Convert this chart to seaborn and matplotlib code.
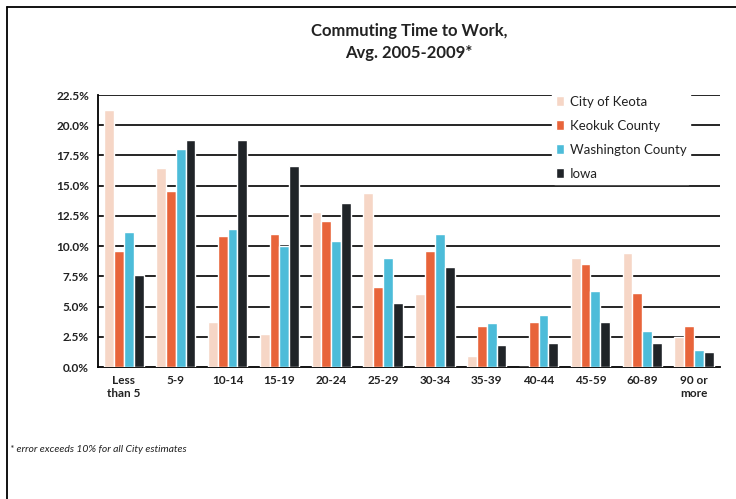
import matplotlib
matplotlib.use("Agg")
import matplotlib.pyplot as plt
import matplotlib.lines as mlines
import seaborn as sns
import pandas as pd
import numpy as np

categories = ["Less\nthan 5", "5-9", "10-14", "15-19", "20-24", "25-29",
              "30-34", "35-39", "40-44", "45-59", "60-89", "90 or\nmore"]
series_names = ["City of Keota", "Keokuk County", "Washington County", "Iowa"]
keota = [21.3, 16.5, 3.7, 2.7, 12.8, 14.4, 6.0, 0.9, 0.0, 9.0, 9.4, 2.5]
keokuk = [9.6, 14.6, 10.8, 11.0, 12.1, 6.6, 9.6, 3.4, 3.7, 8.5, 6.1, 3.4]
washington = [11.2, 18.0, 11.4, 10.0, 10.4, 9.0, 11.0, 3.6, 4.3, 6.3, 3.0, 1.4]
iowa = [7.6, 18.8, 18.8, 16.6, 13.6, 5.3, 8.3, 1.8, 2.0, 3.7, 2.0, 1.2]
yticks = [0, 2.5, 5, 7.5, 10, 12.5, 15, 17.5, 20, 22.5]
colors = ["#f6d6c6", "#e8643a", "#4dbcd9", "#202428"]

rows = []
for name, vals in zip(series_names, [keota, keokuk, washington, iowa]):
    for c, v in zip(categories, vals):
        rows.append({"cat": c, "series": name, "value": v})
df = pd.DataFrame(rows)

sns.set_style("white")
plt.rcParams["font.family"] = ["Lato", "DejaVu Sans"]

fig = plt.figure(figsize=(7.36, 4.99), dpi=100)
ax = fig.add_axes([98/736, 1 - 367/499, (720-98)/736, (367-95)/499])

sns.barplot(data=df, x="cat", y="value", hue="series", order=categories,
            hue_order=series_names, palette=colors, width=0.76,
            saturation=1, ax=ax, zorder=3)

ax.set_ylim(0, 22.5)
ax.set_xlim(-0.5, len(categories) - 0.5)
ax.set_yticks(yticks)
ax.set_yticklabels([f"{t:.1f}%" for t in yticks], fontsize=8.5, fontweight="bold", color="#222222")
ax.set_xticks(range(len(categories)))
ax.set_xticklabels(categories, fontsize=8.5, fontweight="bold", color="#222222")
ax.set_xticks(np.arange(-0.5, len(categories)), minor=True)
ax.tick_params(axis="x", which="major", length=0, pad=6)
ax.tick_params(axis="x", which="minor", length=4, width=1, direction="out", color="black")
ax.tick_params(axis="y", length=5, width=1, direction="inout", color="black", pad=4)
ax.set_xlabel("")
ax.set_ylabel("")
for y in yticks[1:]:
    ax.axhline(y, color="black", lw=1.2, zorder=1)
for s in ["top", "right"]:
    ax.spines[s].set_visible(False)
for s in ["left", "bottom"]:
    ax.spines[s].set_color("black")
    ax.spines[s].set_linewidth(1.3)

leg = ax.legend(loc="upper left", bbox_to_anchor=(0.72, 1.035), frameon=True,
                prop={"size": 9.5}, handlelength=0.6, handleheight=0.8, handletextpad=0.4,
                labelspacing=0.9, borderpad=0.3)
leg.get_frame().set_facecolor("white")
leg.get_frame().set_edgecolor("white")
leg.get_frame().set_alpha(1)
leg.set_zorder(5)
for t in leg.get_texts():
    t.set_color("#222222")

fig.text(409/736, 1 - 31/499, "Commuting Time to Work,", ha="center", va="center",
         fontsize=12, fontweight="bold", color="#222222")
fig.text(409/736, 1 - 53/499, "Avg. 2005-2009*", ha="center", va="center",
         fontsize=12, fontweight="bold", color="#222222")
fig.text(10/736, 1 - 450/499, "* error exceeds 10% for all City estimates", ha="left", va="center",
         fontsize=7.5, style="italic", color="#222222")

fig.add_artist(mlines.Line2D([7/736, 1], [1 - 7/499, 1 - 7/499], color="black", lw=1.3,
                             transform=fig.transFigure))
fig.add_artist(mlines.Line2D([7/736, 7/736], [0, 1 - 7/499], color="black", lw=1.3,
                             transform=fig.transFigure))

fig.savefig("out.png", dpi=100, facecolor="white")
